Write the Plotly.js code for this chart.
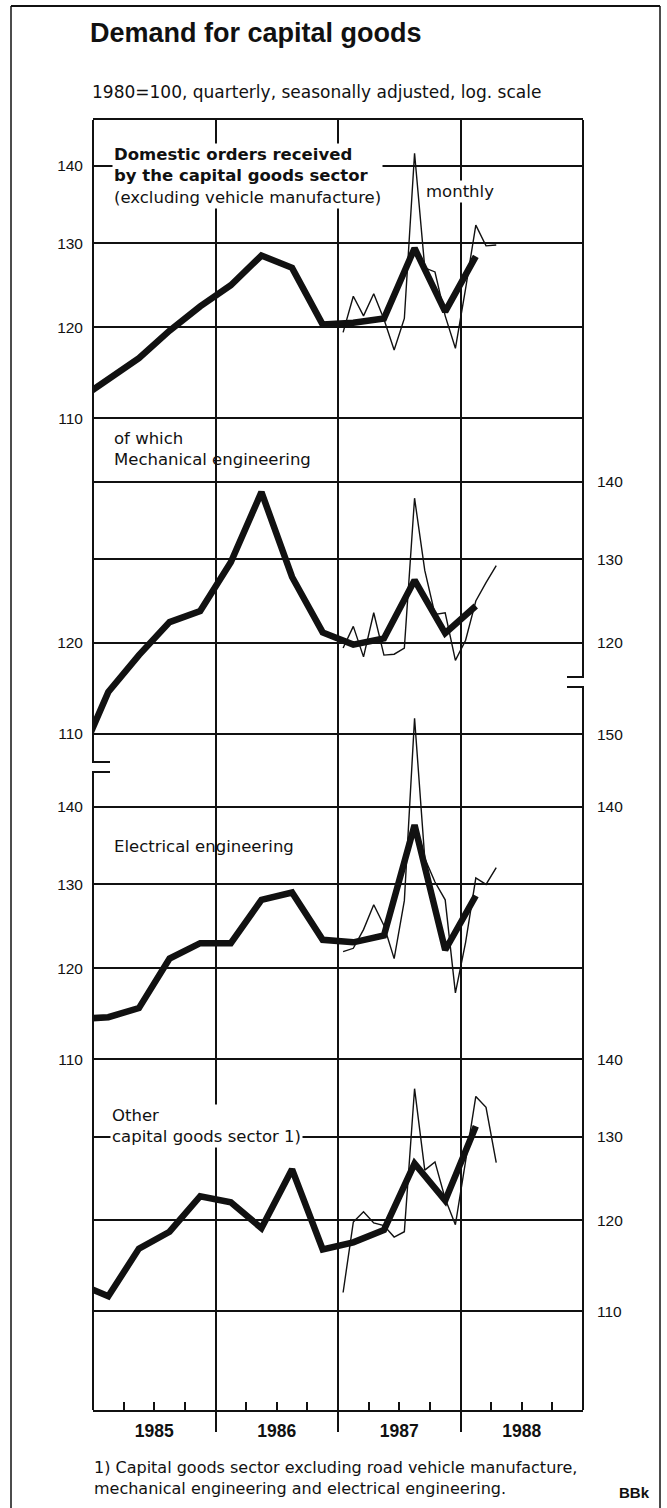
<!DOCTYPE html>
<html><head><meta charset="utf-8">
<script src="https://cdn.plot.ly/plotly-3.0.1.min.js"></script>
<style>html,body{margin:0;padding:0;background:#fff;} #chart{width:667px;height:1508px;}</style>
</head><body><div id="chart"></div>
<script>
// ---------------- data ----------------
const quarters = ['1984 Q4','1985 Q1','1985 Q2','1985 Q3','1985 Q4','1986 Q1','1986 Q2','1986 Q3','1986 Q4','1987 Q1','1987 Q2','1987 Q3','1987 Q4','1988 Q1'];
const months = ['1987-01','1987-02','1987-03','1987-04','1987-05','1987-06','1987-07','1987-08','1987-09','1987-10','1987-11','1987-12','1988-01','1988-02','1988-03','1988-04'];

const totalQuarterly = [111.9, 114.1, 116.5, 119.6, 122.4, 124.9, 128.5, 127.0, 120.3, 120.5, 121.0, 129.4, 121.8, 128.4];
const totalMonthly   = [119.4, 123.6, 121.3, 123.9, 120.9, 117.4, 121.0, 141.7, 127.0, 126.5, 121.3, 117.6, 124.5, 132.3, 129.7, 129.8];

const mechQuarterly  = [107.0, 114.5, 118.6, 122.4, 123.7, 129.6, 138.6, 127.8, 121.2, 119.8, 120.5, 127.4, 121.1, 124.3];
const mechMonthly    = [119.4, 121.9, 118.4, 123.5, 118.6, 118.7, 119.4, 137.8, 128.6, 123.3, 123.5, 118.0, 120.3, 124.9, 127.1, 129.2];

const elecQuarterly  = [114.3, 114.5, 115.5, 121.1, 122.9, 122.9, 128.1, 129.0, 123.3, 123.0, 123.8, 137.6, 122.1, 128.6];
const elecMonthly    = [121.9, 122.3, 124.5, 127.5, 125.0, 121.1, 128.0, 152.4, 133.3, 130.3, 128.1, 117.2, 123.0, 130.8, 130.0, 132.1];

const otherQuarterly = [113.0, 111.6, 116.8, 118.7, 122.8, 122.1, 119.1, 126.0, 116.7, 117.5, 118.9, 126.7, 122.3, 131.3];
const otherMonthly   = [112.0, 119.8, 121.0, 119.7, 119.4, 118.1, 118.7, 136.1, 125.9, 126.9, 122.5, 119.5, 127.0, 135.1, 133.7, 126.8];

const yearLabels = ['1985','1986','1987','1988'];
const p1LeftTicks  = [110, 120, 130, 140];
const p2LeftTicks  = [110, 120];
const p2RightTicks = [120, 130, 140];
const p3LeftTicks  = [110, 120, 130, 140];
const p3RightTicks = [140, 150];
const p4RightTicks = [110, 120, 130, 140];

// ---------------- layout helpers ----------------
const W = 667, H = 1508, L = 93, R = 583, T = 120, B = 1410;
const px = X => (X - L) / (R - L);
const py = Y => (B - Y) / (B - T);
const INK = '#111';

function qx(s){ const p = s.split(' Q'); return Number(p[0]) + (Number(p[1]) - 0.5) / 4; }
function mx(s){ const p = s.split('-'); return Number(p[0]) + (Number(p[1]) - 0.5) / 12; }
const xq = quarters.map(qx);
const xm = months.map(mx);

const bold = {color: INK, width: 6.5};
const thin = {color: INK, width: 1.4};
function tr(x, y, xa, ya, line, name){
  return {x: x, y: y, xaxis: xa, yaxis: ya, mode: 'lines', line: line, name: name, hoverinfo: 'skip', showlegend: false};
}
const data = [
  tr(xq, totalQuarterly, 'x',  'y',  bold, 'Domestic orders, quarterly'),
  tr(xm, totalMonthly,   'x2', 'y',  thin, 'Domestic orders, monthly'),
  tr(xq, mechQuarterly,  'x',  'y2', bold, 'Mechanical engineering, quarterly'),
  tr(xm, mechMonthly,    'x',  'y3', thin, 'Mechanical engineering, monthly'),
  tr(xq, elecQuarterly,  'x',  'y4', bold, 'Electrical engineering, quarterly'),
  tr(xm, elecMonthly,    'x',  'y5', thin, 'Electrical engineering, monthly'),
  tr(xq, otherQuarterly, 'x',  'y6', bold, 'Other capital goods, quarterly'),
  tr(xm, otherMonthly,   'x',  'y6', thin, 'Other capital goods, monthly')
];

const numFont = {family: 'Liberation Sans, Arial, sans-serif', size: 15.5, color: INK};
const txtFont = {family: 'DejaVu Sans, sans-serif', size: 16.5, color: INK};
const PXDEC = 2408;                 // pixels per decade of the log scale
const SPAN = (B - T) / PXDEC;       // log10 units visible over the plot height
function rng(top){ return [top - SPAN, top]; }
const top1 = 2.1652, top2 = 2.2963, top3 = 2.4314;
// panel 4's 140 line shares the pixel row of panel 3's 110 line
const top4 = Math.log10(140) + (top3 - Math.log10(110));

function yax(range, ticks, side, extra){
  return Object.assign({
    type: 'log', range: range, tickmode: 'array', tickvals: ticks, ticktext: ticks.map(String),
    side: side, ticks: '', showgrid: true, gridcolor: INK, gridwidth: 1.5,
    zeroline: false, showline: false, tickfont: numFont,
    ticklabelstandoff: side === 'left' ? 9 : 13, fixedrange: true
  }, extra || {});
}

const years = yearLabels.map(Number);
const layout = {
  width: W, height: H,
  margin: {l: L, r: W - R, t: T, b: H - B, pad: 0},
  paper_bgcolor: '#fff', plot_bgcolor: '#fff',
  showlegend: false,
  title: {
    text: 'Demand for capital goods',
    font: {family: 'Liberation Sans, Arial, sans-serif', size: 27, weight: 700, color: INK},
    xref: 'container', yref: 'container', x: 90 / W, xanchor: 'left', y: 1 - 33 / H, yanchor: 'middle'
  },
  xaxis: {
    range: [years[0], years[years.length - 1] + 1], tickmode: 'array',
    tickvals: years.slice(1), showticklabels: false,
    ticks: 'outside', ticklen: 20, tickwidth: 1.5, tickcolor: INK,
    showgrid: true, gridcolor: INK, gridwidth: 1.5,
    showline: true, mirror: true, linecolor: INK, linewidth: 1.5, zeroline: false,
    minor: {tickmode: 'array', tickvals: years.flatMap(y => [0.25, 0.5, 0.75].map(f => y + f)),
            ticks: 'inside', ticklen: 8, tickwidth: 1.5, tickcolor: INK, showgrid: false},
    fixedrange: true
  },
  xaxis2: {
    overlaying: 'x', anchor: 'y', side: 'bottom',
    range: [years[0], years[years.length - 1] + 1], tickmode: 'array',
    tickvals: years.map(y => y + 0.5), ticktext: yearLabels, ticks: '',
    showgrid: false, showline: false, zeroline: false, ticklabelstandoff: 8,
    tickfont: {family: 'Liberation Sans, Arial, sans-serif', size: 17.5, weight: 700, color: INK},
    fixedrange: true
  },
  yaxis:  yax(rng(top1), p1LeftTicks, 'left'),
  yaxis2: yax(rng(top2), p2LeftTicks, 'left', {overlaying: 'y'}),
  yaxis3: yax(rng(top2), p2RightTicks, 'right', {overlaying: 'y', anchor: 'x'}),
  yaxis4: yax(rng(top3), p3LeftTicks, 'left', {overlaying: 'y'}),
  yaxis5: yax(rng(top3), p3RightTicks, 'right', {overlaying: 'y', anchor: 'x', showgrid: false}),
  yaxis6: yax(rng(top4), p4RightTicks, 'right', {overlaying: 'y', anchor: 'x'}),
  shapes: [
    // broken left axis
    {type: 'path', xref: 'paper', yref: 'paper', layer: 'above',
     path: `M ${px(93)},${py(120)} L ${px(93)},${py(762)} L ${px(110)},${py(762)}`, line: {color: INK, width: 2}},
    {type: 'path', xref: 'paper', yref: 'paper', layer: 'above',
     path: `M ${px(110)},${py(772)} L ${px(93)},${py(772)} L ${px(93)},${py(1410)}`, line: {color: INK, width: 2}},
    // broken right axis
    {type: 'path', xref: 'paper', yref: 'paper', layer: 'above',
     path: `M ${px(583)},${py(120)} L ${px(583)},${py(677)} L ${px(567)},${py(677)}`, line: {color: INK, width: 2}},
    {type: 'path', xref: 'paper', yref: 'paper', layer: 'above',
     path: `M ${px(567)},${py(687)} L ${px(583)},${py(687)} L ${px(583)},${py(1410)}`, line: {color: INK, width: 2}},
    // gap in the gridline between the mechanical and electrical panels
    {type: 'rect', xref: 'paper', yref: 'paper', layer: 'between',
     x0: px(254), x1: px(320), y0: py(737), y1: py(731), fillcolor: '#fff', line: {width: 0}},
    // outer frame
    {type: 'line', xref: 'paper', yref: 'paper', x0: px(11), x1: px(660), y0: py(6), y1: py(6), line: {color: INK, width: 2}},
    {type: 'line', xref: 'paper', yref: 'paper', x0: px(11), x1: px(11), y0: py(6), y1: py(1530), line: {color: INK, width: 1.5}},
    {type: 'line', xref: 'paper', yref: 'paper', x0: px(660), x1: px(660), y0: py(6), y1: py(1530), line: {color: INK, width: 1.5}}
  ],
  annotations: [
    {text: '1980=100, quarterly, seasonally adjusted, log. scale', xref: 'paper', yref: 'paper',
     x: px(90), y: py(92), xanchor: 'left', yanchor: 'middle', showarrow: false, font: Object.assign({}, txtFont, {size: 17})},
    {text: '<b>Domestic orders received<br>by the capital goods sector</b><br>(excluding vehicle manufacture)',
     xref: 'paper', yref: 'paper', x: px(112), y: py(142.5), xanchor: 'left', yanchor: 'top', align: 'left',
     showarrow: false, bgcolor: '#fff', borderpad: 1, font: txtFont},
    {text: 'monthly', xref: 'paper', yref: 'paper', x: px(424), y: py(191.5), xanchor: 'left', yanchor: 'middle',
     showarrow: false, bgcolor: '#fff', borderpad: 1, font: txtFont},
    {text: 'of which<br>Mechanical engineering', xref: 'paper', yref: 'paper', x: px(112), y: py(426.5),
     xanchor: 'left', yanchor: 'top', align: 'left', showarrow: false, font: txtFont},
    {text: 'Electrical engineering', xref: 'paper', yref: 'paper', x: px(112), y: py(846.5),
     xanchor: 'left', yanchor: 'middle', showarrow: false, font: txtFont},
    {text: 'Other<br>capital goods sector 1)', xref: 'paper', yref: 'paper', x: px(110), y: py(1103.5),
     xanchor: 'left', yanchor: 'top', align: 'left', showarrow: false, bgcolor: '#fff', borderpad: 1, font: txtFont},
    {text: '1) Capital goods sector excluding road vehicle manufacture,<br>mechanical engineering and electrical engineering.',
     xref: 'paper', yref: 'paper', x: px(92), y: py(1456), xanchor: 'left', yanchor: 'top', align: 'left',
     showarrow: false, font: Object.assign({}, txtFont, {size: 16})},
    {text: '<b>BBk</b>', xref: 'paper', yref: 'paper', x: px(652), y: py(1492), xanchor: 'right', yanchor: 'middle',
     showarrow: false, font: {family: 'Liberation Sans, Arial, sans-serif', size: 15, color: INK}}
  ]
};

Plotly.newPlot('chart', data, layout, {displayModeBar: false, staticPlot: false, responsive: false});
</script></body></html>
